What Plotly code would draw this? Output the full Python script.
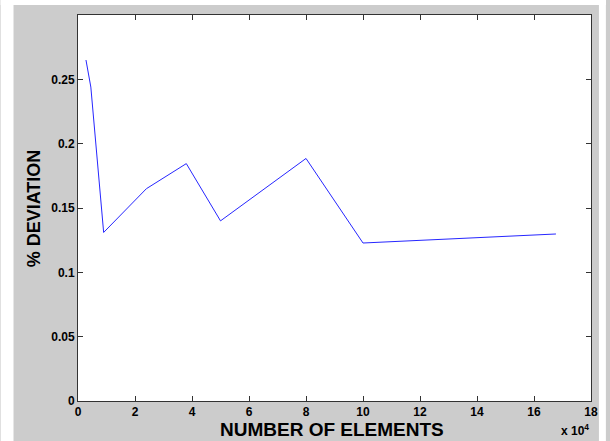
import plotly.graph_objects as go

elements = [2800, 4500, 9000, 24000, 38000, 50000, 80000, 100000, 167700]
deviation = [0.265, 0.244, 0.131, 0.165, 0.1845, 0.140, 0.1885, 0.1228, 0.1298]

x_tickvals = [0, 20000, 40000, 60000, 80000, 100000, 120000, 140000, 160000, 180000]
x_ticktext = ["0", "2", "4", "6", "8", "10", "12", "14", "16", "18"]
y_tickvals = [0, 0.05, 0.1, 0.15, 0.2, 0.25]
y_ticktext = ["0", "0.05", "0.1", "0.15", "0.2", "0.25"]

FONT = "Liberation Sans, Arial, sans-serif"

fig = go.Figure()
fig.add_trace(go.Scatter(x=elements, y=deviation, mode="lines",
                         line=dict(color="#2626ff", width=1), showlegend=False))

axis_common = dict(showgrid=False, zeroline=False, showline=True, linecolor="#333333",
                   linewidth=1, mirror="ticks", ticks="inside", ticklen=5,
                   tickcolor="#333333", tickwidth=1,
                   tickfont=dict(family=FONT, size=12, color="black", weight="bold"))

fig.update_xaxes(range=[0, 180000], tickvals=x_tickvals, ticktext=x_ticktext, **axis_common)
fig.update_yaxes(range=[0, 0.3], tickvals=y_tickvals, ticktext=y_ticktext, **axis_common)

W, H = 517, 386  # plot area size in px
fig.update_layout(
    width=610, height=441,
    margin=dict(l=78, r=15, t=15, b=40, pad=0),
    paper_bgcolor="#cccccc", plot_bgcolor="white",
    shapes=[
        dict(type="rect", xref="paper", yref="paper", layer="below",
             x0=-78/W, x1=-65/W, y0=-40/H, y1=(H+15)/H,
             fillcolor="white", line=dict(width=0)),
        dict(type="rect", xref="paper", yref="paper", layer="below",
             x0=-78/W, x1=(W+15)/W, y0=(H+10)/H, y1=(H+15)/H,
             fillcolor="white", line=dict(width=0)),
        dict(type="rect", xref="paper", yref="paper", layer="below",
             x0=(W+8)/W, x1=(W+15)/W, y0=-40/H, y1=(H+15)/H,
             fillcolor="white", line=dict(width=0)),
    ],
    annotations=[
        dict(text="<b>NUMBER OF ELEMENTS</b>", xref="paper", yref="paper",
             x=0.495, y=-28/H, xanchor="center", yanchor="middle", showarrow=False,
             font=dict(family=FONT, size=19, color="black")),
        dict(text="<b>% DEVIATION</b>", xref="paper", yref="paper", textangle=-90,
             x=-44/W, y=0.5, xanchor="center", yanchor="middle", showarrow=False,
             font=dict(family=FONT, size=18, color="black")),
        dict(text="<b>x 10<sup>4</sup></b>", xref="paper", yref="paper",
             x=1.0, y=-29/H, xanchor="right", yanchor="middle", showarrow=False,
             font=dict(family=FONT, size=12, color="black")),
    ],
)

fig.write_html("out.html")
